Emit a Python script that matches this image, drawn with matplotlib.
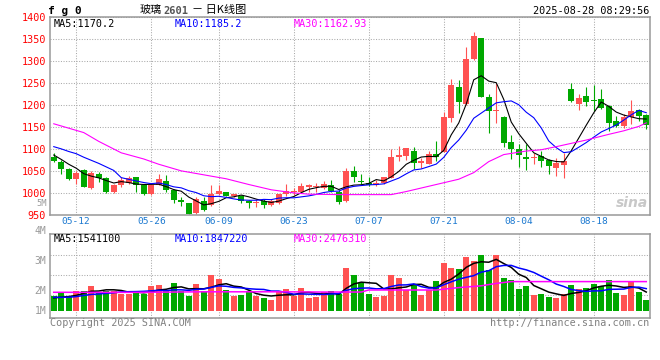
import matplotlib
matplotlib.use('Agg')
import matplotlib.pyplot as plt
import numpy as np
import pandas as pd

plt.rcParams['font.family'] = ['DejaVu Sans Mono', 'Noto Sans CJK SC']

# trading days shown (2025-06-02 was a holiday)
days = pd.bdate_range('2025-05-07', '2025-08-27')
days = days[days != pd.Timestamp('2025-06-02')]
day_labels = [d.strftime('%m-%d') for d in days]
date_ticks = ['05-12', '05-26', '06-09', '06-23', '07-07', '07-21', '08-04', '08-18']

opens = [1083, 1071, 1055, 1033, 1054, 1013, 1043, 1034, 1002, 1018,
         1024, 1036, 1018, 998, 1020, 1029, 1007, 984, 977, 955,
         983, 973, 998, 1002, 995, 995, 982, 977, 983, 974,
         978, 998, 1002, 1002, 1015, 1015, 1012, 1018, 1004, 982,
         1050, 1029, 1024, 1018, 1024, 1035, 1082, 1084, 1097, 1070,
         1067, 1090, 1094, 1171, 1241, 1203, 1305, 1352, 1218, 1186,
         1173, 1116, 1101, 1082, 1080, 1084, 1075, 1058, 1065, 1236,
         1204, 1222, 1211, 1215, 1198, 1164, 1152, 1173, 1190, 1177]
highs = [1091, 1075, 1057, 1051, 1056, 1050, 1048, 1037, 1020, 1036,
         1039, 1038, 1019, 1023, 1044, 1041, 1009, 992, 978, 991,
         991, 1018, 1018, 1004, 999, 997, 984, 988, 988, 986,
         999, 1021, 1013, 1024, 1022, 1024, 1027, 1031, 1008, 1058,
         1061, 1044, 1037, 1031, 1037, 1101, 1107, 1104, 1105, 1080,
         1097, 1118, 1185, 1259, 1257, 1332, 1366, 1354, 1226, 1251,
         1175, 1133, 1112, 1112, 1092, 1096, 1077, 1080, 1092, 1251,
         1226, 1241, 1247, 1236, 1200, 1175, 1180, 1213, 1192, 1180]
lows = [1072, 1044, 1031, 1021, 1014, 1010, 1026, 1001, 1001, 1015,
        1021, 1003, 996, 996, 1018, 1004, 979, 970, 952, 953,
        959, 972, 996, 993, 992, 979, 967, 969, 967, 972,
        976, 994, 995, 1000, 1004, 1004, 1010, 1003, 976, 980,
        1025, 1020, 1017, 1016, 1022, 1034, 1074, 1075, 1055, 1058,
        1066, 1074, 1093, 1162, 1182, 1201, 1303, 1218, 1137, 1160,
        1105, 1077, 1060, 1052, 1067, 1059, 1044, 1040, 1035, 1207,
        1190, 1198, 1188, 1192, 1142, 1150, 1148, 1157, 1164, 1147]
closes = [1074, 1055, 1033, 1046, 1015, 1046, 1035, 1003, 1018, 1031,
          1035, 1018, 998, 1020, 1032, 1008, 984, 980, 953, 988,
          963, 998, 1006, 995, 998, 983, 978, 980, 973, 982,
          998, 1006, 1004, 1017, 1020, 1017, 1021, 1005, 980, 1051,
          1036, 1025, 1020, 1024, 1036, 1082, 1086, 1102, 1069, 1073,
          1090, 1082, 1173, 1247, 1207, 1305, 1358, 1219, 1186, 1189,
          1115, 1101, 1086, 1077, 1082, 1073, 1061, 1068, 1073, 1209,
          1217, 1207, 1209, 1195, 1160, 1152, 1173, 1188, 1175, 1156]
# volume, millions of lots
volumes = [1.25, 1.53, 1.19, 1.70, 1.70, 2.11, 1.62, 1.70, 1.70, 1.42,
           1.42, 1.62, 1.42, 2.11, 2.16, 1.75, 2.36, 1.67, 1.28, 2.25,
           1.70, 3.00, 2.67, 1.75, 1.25, 1.34, 1.67, 1.25, 1.08, 0.91,
           1.67, 1.84, 1.25, 1.92, 1.11, 1.19, 1.55, 1.67, 1.42, 3.61,
           3.00, 2.31, 1.42, 1.19, 1.28, 3.00, 2.78, 1.75, 2.25, 1.34,
           1.75, 2.53, 4.03, 3.61, 3.50, 4.52, 4.19, 4.69, 3.42, 4.69,
           2.78, 2.58, 1.84, 2.08, 1.34, 1.42, 1.19, 1.11, 1.42, 2.16,
           1.84, 1.92, 2.28, 2.11, 2.58, 1.53, 1.34, 2.50, 1.62, 0.91]

# moving-average values before enough bars exist in the window
ma5_head = [1087, 1077, 1066, 1057]
ma10_head = [1106, 1101, 1095, 1090, 1082, 1075, 1068, 1060, 1052]
ma30_days = ['05-07', '05-13', '05-15', '05-20', '05-23', '05-27', '05-30', '06-06',
             '06-10', '06-13', '06-18', '06-23', '06-25', '07-01', '07-04', '07-10',
             '07-14', '07-17', '07-22', '07-23', '07-25', '07-29', '07-31', '08-05',
             '08-07', '08-11', '08-15', '08-20', '08-22', '08-26', '08-27']
ma30_vals = [1158, 1138, 1118, 1092, 1078, 1066, 1051, 1039, 1033, 1020, 1008, 1001,
             998, 997, 997, 997, 1004, 1016, 1028, 1032, 1047, 1072, 1088, 1096,
             1099, 1106, 1121, 1134, 1142, 1152, 1160]
vma5_head = [1.10, 1.15, 1.20, 1.30]
vma10_head = [1.14, 1.14, 1.15, 1.20, 1.30, 1.38, 1.42, 1.47, 1.52]
vma30_days = ['05-07', '05-21', '06-05', '06-19', '06-27', '07-04', '07-07', '07-18',
              '07-21', '07-23', '07-28', '07-30', '08-01', '08-12', '08-27']
vma30_vals = [1.56, 1.55, 1.60, 1.60, 1.58, 1.58, 1.75, 1.75, 1.82, 1.95, 2.10,
              2.30, 2.45, 2.45, 2.45]

RED = '#ff5252'
GREEN = '#00a800'
GRAY = '#999999'
W, H = 660.0, 360.0


def px(x, y):
    return x / W, 1 - y / H


def moving(vals, n, head):
    s = pd.Series(vals, dtype=float).rolling(n).mean().to_numpy()
    s[:len(head)] = head
    return s


x = np.arange(len(days))
o = np.array(opens, float)
c = np.array(closes, float)
col = np.where(c >= o, RED, GREEN)
tick_pos = [day_labels.index(d) for d in date_ticks]

fig = plt.figure(figsize=(6.6, 3.6), dpi=100)
ax = fig.add_axes([50 / W, 1 - 215.3 / H, 600 / W, 198 / H])
av = fig.add_axes([50 / W, 1 - 318 / H, 600 / W, 84 / H])

# candles
ax.vlines(x, lows, highs, colors=col, linewidth=0.8)
ax.bar(x, np.maximum(np.abs(c - o), 2.3), bottom=np.minimum(o, c), width=0.76,
       color=col, linewidth=0)
ax.plot(x, moving(closes, 5, ma5_head), color='black', lw=0.8)
ax.plot(x, moving(closes, 10, ma10_head), color='#0000ff', lw=0.8)
ax.plot([day_labels.index(d) for d in ma30_days], ma30_vals, color='#ff00ff', lw=0.8)

ax.set_xlim(-0.5, len(days) - 0.5)
ax.set_ylim(950, 1400)
ax.set_yticks(np.arange(950, 1401, 50))
ax.set_xticks(tick_pos)
ax.set_xticklabels(date_ticks)
ax.tick_params(axis='y', colors='#ff0000', length=0, labelsize=7.3, pad=3)
ax.tick_params(axis='x', colors='#1a78d0', length=0, labelsize=6.8, pad=1.2)

# volume
av.bar(x, volumes, width=0.76, color=col, linewidth=0)
av.plot(x, moving(volumes, 5, vma5_head), color='black', lw=1.1)
av.plot(x, moving(volumes, 10, vma10_head), color='#0000ff', lw=1.1)
av.plot([day_labels.index(d) for d in vma30_days], vma30_vals, color='#ff00ff', lw=1.1)
av.set_xlim(-0.5, len(days) - 0.5)
av.set_ylim(-7 / 12, 77 / 12)
av.set_yticks([4 / 3, 3.0, 14 / 3])
av.set_xticks(tick_pos)
av.tick_params(length=0, labelleft=False, labelbottom=False)

for a in (ax, av):
    a.grid(True, color='#aaaaaa', linestyle=(0, (1, 1.5)), linewidth=0.75)
    a.set_axisbelow(True)
    for sp in a.spines.values():
        sp.set_color(GRAY)
        sp.set_linewidth(1.1)

# header
fig.text(*px(48, 10.5), 'f g 0', fontsize=8, fontweight='bold', va='center')
fig.text(*px(140, 10), '玻璃', family=['Noto Sans CJK SC'], fontsize=8, va='center')
fig.text(*px(163, 10.5), '2601', color='#555555', fontsize=7.5, fontweight='bold', va='center')
fig.text(*px(192, 10), '－ 日K线图', family=['Noto Sans CJK SC'], fontsize=8, va='center')
fig.text(*px(649, 11.5), '2025-08-28 08:29:56', fontsize=7.3, ha='right', va='center')

fig.text(*px(54, 24), 'MA5:1170.2', fontsize=7.3, va='center')
fig.text(*px(175, 24), 'MA10:1185.2', fontsize=7.3, color='#0000ff', va='center')
fig.text(*px(294, 24), 'MA30:1162.93', fontsize=7.3, color='#ff00ff', va='center')

fig.text(*px(54, 238.5), 'MA5:1541100', fontsize=7.3, va='center')
fig.text(*px(175, 238.5), 'MA10:1847220', fontsize=7.3, color='#0000ff', va='center')
fig.text(*px(294, 238.5), 'MA30:2476310', fontsize=7.3, color='#ff00ff', va='center')

fig.text(*px(46.5, 203.2), '5M', fontsize=6.3, color=GRAY, ha='right', va='center')
for lab, yy in [('4M', 231), ('3M', 261), ('2M', 291), ('1M', 311)]:
    fig.text(*px(46.5, yy), lab, fontsize=7, color=GRAY, ha='right', va='center')

fig.text(*px(50, 323), 'Copyright 2025 SINA.COM', fontsize=7.3, color='#808080', va='center')
fig.text(*px(649, 323), 'http://finance.sina.com.cn', fontsize=7.3, color='#808080',
         ha='right', va='center')
fig.text(*px(616, 203), 'sina', fontsize=10, color='#c8c8c8', fontweight='bold',
         style='italic', va='center', family=['DejaVu Sans'])

fig.savefig('out.png', dpi=100)
